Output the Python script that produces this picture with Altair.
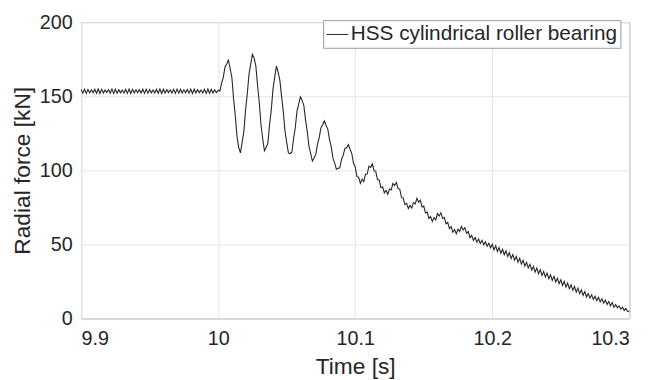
import altair as alt
import pandas as pd

# Radial force [kN], sampled every 1.25 ms from 9.900 s to 10.300 s
force_pre = [  # 9.900 - 9.999 s
    154.6, 152.0, 154.8, 151.9, 154.5, 152.2, 154.3, 152.4, 154.7, 152.0,
    154.9, 151.8, 154.6, 152.1, 154.2, 152.5, 154.5, 152.1, 154.8, 151.9,
    154.7, 152.0, 154.4, 152.3, 154.2, 152.2, 154.6, 151.9, 154.9, 151.8,
    154.6, 152.1, 154.3, 152.4, 154.4, 152.1, 154.7, 151.9, 154.8, 152.0,
    154.5, 152.3, 154.2, 152.3, 154.6, 152.0, 154.9, 151.8, 154.7, 152.1,
    154.4, 152.4, 154.3, 152.2, 154.7, 151.9, 154.8, 152.0, 154.6, 152.2,
    154.3, 152.3, 154.5, 152.0, 154.8, 151.8, 154.7, 152.1, 154.4, 152.4,
    154.2, 152.2, 154.6, 151.9, 154.9, 152.0, 154.6, 152.2, 154.3, 152.3,
]
force_osc = [  # 10.000 - 10.099 s
    154.1, 153.4, 158.8, 162.7, 169.8, 171.7, 174.3, 168.7, 162.8, 148.2,
    136.8, 122.7, 115.3, 111.7, 118.8, 126.2, 140.8, 151.7, 164.8, 171.7,
    178.3, 175.7, 170.3, 157.2, 145.8, 130.7, 121.3, 113.2, 115.3, 118.2,
    130.8, 140.7, 154.8, 162.7, 170.3, 166.2, 160.8, 150.2, 139.8, 126.7,
    118.8, 111.7, 111.3, 112.2, 121.3, 128.7, 139.8, 144.7, 149.6, 147.2,
    143.8, 134.2, 126.3, 116.2, 111.3, 106.2, 108.3, 110.7, 117.8, 122.2,
    128.8, 130.7, 133.3, 130.2, 127.8, 120.7, 115.8, 108.2, 104.8, 100.7,
    101.3, 101.7, 107.3, 110.2, 114.8, 115.2, 117.3, 114.2, 111.3, 104.7,
]
force_mid = [  # 10.100 - 10.199 s
    102.3, 95.7, 95.3, 91.2, 94.1, 92.4, 97.3, 97.5, 102.8, 102.0,
    104.3, 99.7, 99.3, 93.7, 93.3, 88.2, 88.8, 84.7, 86.5, 83.9,
    87.3, 86.7, 91.1, 89.7, 91.8, 87.7, 87.3, 81.7, 81.3, 76.7,
    77.8, 74.2, 76.3, 74.5, 78.3, 77.2, 81.1, 78.5, 79.8, 75.2,
    75.8, 71.2, 71.8, 67.5, 68.8, 65.4, 68.1, 66.4, 70.8, 69.2,
    71.3, 67.5, 68.3, 63.9, 64.8, 60.7, 62.0, 58.2, 60.0, 57.2,
    60.3, 58.7, 62.1, 59.7, 61.3, 57.5, 58.6, 54.5, 56.1, 52.7,
    54.6, 51.5, 53.6, 50.6, 52.8, 49.7, 51.8, 48.7, 50.8, 47.7,
]
force_end = [  # 10.200 - 10.300 s
    50.1, 46.3, 49.0, 45.2, 47.9, 44.1, 46.7, 43.0,
    45.6, 41.8, 44.4, 40.5, 43.1, 39.3, 41.9, 38.0,
    40.6, 36.7, 39.2, 35.3, 37.9, 34.0, 36.5, 32.6,
    35.1, 31.3, 34.0, 30.2, 32.9, 29.1, 31.7, 28.0,
    30.6, 26.8, 29.5, 25.7, 28.4, 24.6, 27.2, 23.5,
    26.1, 22.3, 25.0, 21.2, 23.9, 20.1, 22.7, 19.0,
    21.6, 17.8, 20.5, 16.7, 19.4, 15.6, 18.2, 14.5,
    16.8, 13.8, 15.9, 12.9, 15.0, 12.0, 14.2, 11.1,
    13.3, 10.3, 12.4, 9.4, 11.5, 8.5, 10.7, 7.6,
    9.4, 7.2, 8.5, 6.3, 7.6, 5.4, 6.7, 4.6,
    5.0,
]
force = force_pre + force_osc + force_mid + force_end
t_start = 9.9
t_step = 0.00125
time = [round(t_start + t_step * i, 5) for i in range(len(force))]

x_ticks = [9.9, 10.0, 10.1, 10.2, 10.3]
y_ticks = [0, 50, 100, 150, 200]
series_name = "HSS cylindrical roller bearing"

df = pd.DataFrame({"Time": time, "Force": force, "Series": series_name})

FONT = "Liberation Sans"
TXT = "#262626"

chart = (
    alt.Chart(df)
    .mark_line(strokeWidth=1.1, interpolate="linear")
    .encode(
        x=alt.X(
            "Time:Q",
            scale=alt.Scale(domain=[9.9, 10.3], nice=False, zero=False),
            axis=alt.Axis(
                title="Time [s]",
                values=x_ticks,
                format="~g",
                ticks=False,
                labelPadding=10,
                titlePadding=8,
            ),
        ),
        y=alt.Y(
            "Force:Q",
            scale=alt.Scale(domain=[0, 200], nice=False),
            axis=alt.Axis(
                title="Radial force [kN]",
                values=y_ticks,
                ticks=False,
                labelPadding=9,
                titlePadding=5,
            ),
        ),
        color=alt.Color(
            "Series:N",
            scale=alt.Scale(range=["#262626"]),
            legend=alt.Legend(
                title=None,
                orient="none",
                legendX=245,
                legendY=-2,
                symbolType="stroke",
                symbolSize=484,
                symbolStrokeWidth=1,
                labelFontSize=21,
                labelFont=FONT,
                labelColor=TXT,
                labelLimit=0,
                strokeColor="#9a9a9a",
                fillColor="white",
                padding=3,
                labelOffset=2,
            ),
        ),
    )
    .properties(
        width=555,
        height=300,
        autosize=alt.AutoSizeParams(type="none"),
        padding={"left": 74, "top": 12, "right": 28, "bottom": 60},
    )
    .configure_view(stroke="#9a9a9a", strokeWidth=1)
    .configure_axis(
        grid=True,
        gridColor="#e4e4e4",
        gridWidth=1,
        domain=False,
        labelFont=FONT,
        titleFont=FONT,
        labelFontSize=20,
        titleFontSize=23,
        labelColor=TXT,
        titleColor=TXT,
        titleFontWeight="normal",
    )
)

chart.save("out.html", embed_options={"renderer": "svg", "actions": False})
